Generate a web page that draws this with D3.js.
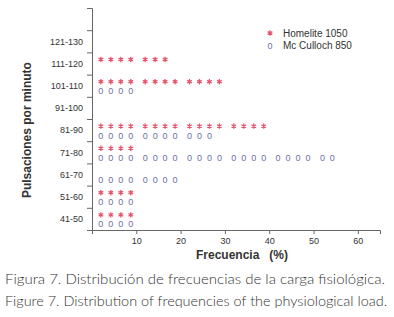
<!DOCTYPE html>
<html>
<head>
<meta charset="utf-8">
<script src="https://cdn.jsdelivr.net/npm/d3@7"></script>
<style>
  body { margin: 0; background: #fff; }
  svg { display: block; }
  .axis text { font-family: "Liberation Sans", Arial, sans-serif; font-size: 9px; fill: #333; }
  .axis path, .axis line { stroke: #666; }
</style>
</head>
<body>
<div id="chart"></div>
<script>
// Pulse-rate classes, bottom to top
const classes = ["41-50", "51-60", "61-70", "71-80", "81-90", "91-100", "101-110", "111-120", "121-130"]
// Frequency (%) per class, each marker stands for 2.5 %
const homelite = [10, 10, 0, 10, 40, 0, 30, 17.5, 0]
const mcculloch = [10, 10, 20, 55, 27.5, 0, 10, 0, 0]
const xTicks = [0, 10, 20, 30, 40, 50, 60]
const seriesNames = ["Homelite 1050", "Mc Culloch 850"]
const markerStep = 2.5

const width = 394, height = 317
const svg = d3.select("#chart").append("svg")
    .attr("width", width)
    .attr("height", height)

const xScale = d3.scaleLinear().domain([0, 65]).range([92, 380])
const yScale = d3.scaleLinear().domain([0, classes.length + 1]).range([230, 8])

// Axes
svg.append("g")
    .attr("class", "axis")
    .attr("transform", `translate(${xScale(0)},0)`)
    .call(d3.axisLeft(yScale).tickValues(d3.range(1, classes.length + 1)).tickSize(5).tickFormat(""))
svg.append("g")
    .attr("class", "axis")
    .attr("transform", `translate(${xScale(0)},0)`)
    .call(d3.axisLeft(yScale)
      .tickValues(classes.map((c, i) => i + 0.5))
      .tickSize(0).tickPadding(9)
      .tickFormat((d, i) => classes[i]))
    .call(g => g.select(".domain").remove())

svg.append("g")
    .attr("class", "axis")
    .attr("transform", `translate(0,${yScale(0)})`)
    .call(d3.axisBottom(xScale).tickValues(xTicks).tickSize(4).tickPadding(4)
      .tickFormat(d => d === 0 ? "" : d))

// Markers: four per 10 % group
const markerValues = v => d3.range(Math.round(v / markerStep))
    .map(i => Math.floor(i / 4) * 10 + 2 + (i % 4) * 2.25)

const starColor = "#e5566c"
const zeroColor = "#6c6fa6"
const star = d3.symbol().type(d3.symbolAsterisk).size(20)

homelite.forEach((v, i) => {
  svg.append("g").selectAll("path")
    .data(markerValues(v))
    .join("path")
      .attr("d", star)
      .attr("transform", d => `translate(${xScale(d)},${yScale(i + 0.5) - 4})`)
      .attr("stroke", starColor)
      .attr("stroke-width", 1.3)
      .attr("fill", "none")
})

mcculloch.forEach((v, i) => {
  svg.append("g").selectAll("text")
    .data(markerValues(v))
    .join("text")
      .attr("x", d => xScale(d))
      .attr("y", yScale(i + 0.5) + 8.5)
      .attr("text-anchor", "middle")
      .style("font-family", "Liberation Sans, Arial, sans-serif")
      .style("font-size", "9px")
      .attr("fill", zeroColor)
      .text("0")
})

// Legend
const legend = svg.append("g").attr("transform", "translate(270,33)")
legend.append("path")
    .attr("d", star)
    .attr("stroke", starColor)
    .attr("stroke-width", 1.3)
    .attr("fill", "none")
legend.append("text")
    .attr("y", 15.5)
    .attr("text-anchor", "middle")
    .style("font-family", "Liberation Sans, Arial, sans-serif")
    .style("font-size", "9px")
    .attr("fill", zeroColor)
    .text("0")
legend.selectAll("text.name")
  .data(seriesNames)
  .join("text")
    .attr("class", "name")
    .attr("x", 13)
    .attr("y", (d, i) => i * 12 + 3.5)
    .style("font-family", "Liberation Sans, Arial, sans-serif")
    .style("font-size", "10px")
    .attr("fill", "#333")
    .text(d => d)

// Axis titles
svg.append("text")
    .attr("transform", `translate(31,${yScale(classes.length / 2)}) rotate(-90)`)
    .attr("text-anchor", "middle")
    .style("font-family", "Liberation Sans, Arial, sans-serif")
    .style("font-size", "12px")
    .style("font-weight", "bold")
    .attr("fill", "#333")
    .text("Pulsaciones por minuto")

svg.append("text")
    .attr("x", 242)
    .attr("y", 259)
    .attr("text-anchor", "middle")
    .style("font-family", "Liberation Sans, Arial, sans-serif")
    .style("font-size", "12px")
    .style("font-weight", "bold")
    .attr("fill", "#333")
    .attr("xml:space", "preserve")
    .text("Frecuencia   (%)")

// Caption
const captions = [
  "Figura 7. Distribución de frecuencias de la carga fisiológica.",
  "Figure 7. Distribution of frequencies of the physiological load."
]
svg.selectAll("text.caption")
  .data(captions)
  .join("text")
    .attr("class", "caption")
    .attr("x", 5)
    .attr("y", (d, i) => 284 + i * 22)
    .attr("textLength", (d, i) => i === 0 ? 380 : 382)
    .attr("lengthAdjust", "spacingAndGlyphs")
    .style("font-family", "Lato, sans-serif")
    .style("font-weight", 300)
    .style("font-size", "14px")
    .attr("fill", "#333")
    .text(d => d)
</script>
</body>
</html>
